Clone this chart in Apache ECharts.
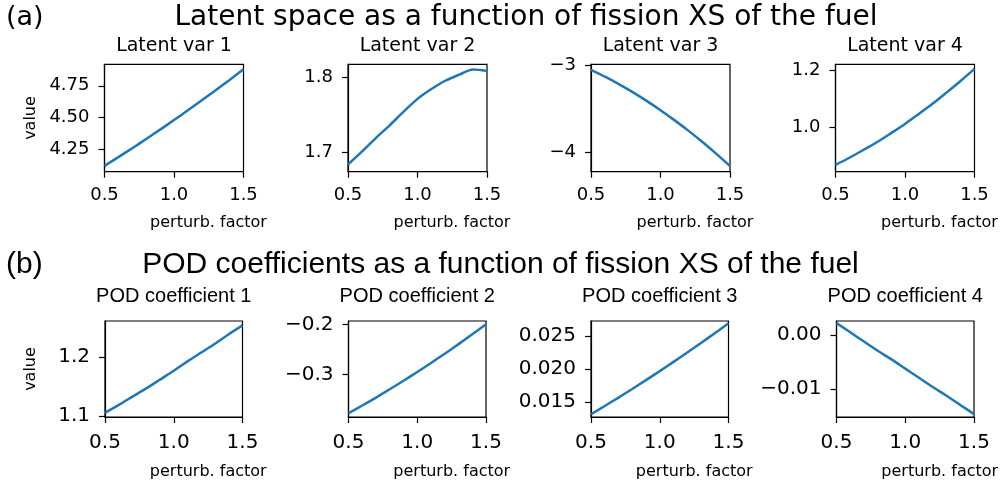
<!DOCTYPE html>
<html><head><meta charset="utf-8">
<script src="https://cdn.jsdelivr.net/npm/echarts@6/dist/echarts.min.js"></script>
<style>html,body{margin:0;padding:0;background:#fff}#c{width:1003px;height:483px}</style>
</head><body><div id="c"></div>
<script>
// ---- data ----
const perturbFactor = [0.5, 0.6, 0.7, 0.8, 0.9, 1.0, 1.1, 1.2, 1.3, 1.4, 1.5];

const latentVar1 = [4.124, 4.192, 4.262, 4.334, 4.407, 4.482, 4.558, 4.636, 4.715, 4.796, 4.879];
const latentVar2 = [1.684, 1.701, 1.719, 1.736, 1.754, 1.771, 1.784, 1.795, 1.803, 1.810, 1.808];
const latentVar3 = [-3.05, -3.129, -3.214, -3.307, -3.408, -3.515, -3.630, -3.751, -3.880, -4.017, -4.16];
const latentVar4 = [0.870, 0.895, 0.922, 0.950, 0.981, 1.013, 1.048, 1.084, 1.123, 1.163, 1.205];

const podCoef1 = [1.1056, 1.119, 1.133, 1.147, 1.162, 1.177, 1.193, 1.208, 1.223, 1.239, 1.254];
const podCoef2 = [-0.378, -0.3624, -0.3464, -0.3298, -0.3126, -0.295, -0.2768, -0.2582, -0.239, -0.2192, -0.199];
const podCoef3 = [0.01312, 0.01438, 0.01566, 0.01697, 0.01831, 0.01968, 0.02108, 0.02250, 0.02395, 0.02543, 0.02694];
const podCoef4 = [0.0022, 0.0005, -0.0012, -0.0029, -0.0045, -0.0062, -0.0079, -0.0096, -0.0112, -0.0129, -0.0146];

const xTicks = [0.5, 1.0, 1.5];
const latentTicks = [[4.25, 4.50, 4.75], [1.7, 1.8], [-4, -3], [1.0, 1.2]];
const podTicks = [[1.1, 1.2], [-0.3, -0.2], [0.015, 0.020, 0.025], [-0.01, 0.00]];
const latentDecimals = [2, 1, 0, 1];
const podDecimals = [1, 1, 3, 2];
const latentLimits = [[4.078, 4.918], [1.6745, 1.8168], [-4.225, -2.986], [0.8464, 1.221]];
const podLimits = [[1.0985, 1.2615], [-0.3855, -0.1925], [0.01271, 0.02729], [-0.01513, 0.00259]];

const latentTitles = ['Latent var 1', 'Latent var 2', 'Latent var 3', 'Latent var 4'];
const podTitles = ['POD coefficient 1', 'POD coefficient 2', 'POD coefficient 3', 'POD coefficient 4'];
const headerA = 'Latent space as a function of fission XS of the fuel';
const headerB = 'POD coefficients as a function of fission XS of the fuel';
const xLabel = 'perturb. factor';
const yLabel = 'value';

// ---- layout ----
const topLefts = [104.5, 348, 591, 835.5];
const botLefts = [105, 348.5, 591, 836.5];
const rows = [
  {lefts: topLefts, top: 64.3, height: 107.4, width: 139, series: [latentVar1, latentVar2, latentVar3, latentVar4],
   ticks: latentTicks, dec: latentDecimals, lim: latentLimits, titles: latentTitles, titleFont: 'DejaVu Sans', titleSize: 19, titleY: 46.5,
   xNameGap: 43, tickSize: 18, xMargin: 15, yMargin: 15},
  {lefts: botLefts, top: 321, height: 96, width: 137.5, series: [podCoef1, podCoef2, podCoef3, podCoef4],
   ticks: podTicks, dec: podDecimals, lim: podLimits, titles: podTitles, titleFont: 'Liberation Sans', titleSize: 20, titleY: 296.5,
   xNameGap: 47, tickSize: 20, xMargin: 16, yMargin: 15}
];

const fmt = (v, d) => v.toFixed(d).replace('-', '\u2212');
const grids = [], xAxes = [], yAxes = [], series = [], graphics = [];
let gi = 0;
rows.forEach((r, ri) => {
  const tickFont = {fontFamily: 'DejaVu Sans', fontSize: r.tickSize, color: '#000'};
  r.lefts.forEach((left, ci) => {
    grids.push({left: left, top: r.top, width: r.width, height: r.height, show: true,
      borderColor: '#000', borderWidth: 1.2, backgroundColor: 'transparent', containLabel: false});
    xAxes.push({type: 'value', gridIndex: gi, min: 0.5, max: 1.5,
      axisLine: {show: true, onZero: false, lineStyle: {color: '#000', width: 1.2}},
      axisTick: {show: true, length: 6, inside: false, lineStyle: {color: '#000', width: 1.2}, customValues: xTicks},
      axisLabel: {show: true, margin: r.xMargin, ...tickFont, customValues: xTicks, formatter: v => fmt(v, 1)},
      splitLine: {show: false},
      name: xLabel, nameLocation: 'middle', nameGap: r.xNameGap,
      nameTextStyle: {fontFamily: 'DejaVu Sans', fontSize: 16, color: '#000', padding: [0, 0, 0, 69]}
    });
    const d = r.dec[ci];
    yAxes.push({type: 'value', gridIndex: gi, min: r.lim[ci][0], max: r.lim[ci][1],
      axisLine: {show: true, onZero: false, lineStyle: {color: '#000', width: 1.2}},
      axisTick: {show: true, length: 6, inside: false, lineStyle: {color: '#000', width: 1.2}, customValues: r.ticks[ci]},
      axisLabel: {show: true, margin: r.yMargin, ...tickFont, customValues: r.ticks[ci], formatter: v => fmt(v, d)},
      splitLine: {show: false},
      name: ci === 0 ? yLabel : '', nameLocation: 'middle', nameRotate: 90, nameGap: 66,
      nameTextStyle: {fontFamily: 'DejaVu Sans', fontSize: 16, color: '#000'}
    });
    series.push({type: 'line', xAxisIndex: gi, yAxisIndex: gi, showSymbol: false, smooth: 0.3,
      lineStyle: {color: '#1f77b4', width: 2.5}, itemStyle: {color: '#1f77b4'},
      data: perturbFactor.map((x, i) => [x, r.series[ci][i]])});
    graphics.push({type: 'text', x: left + r.width / 2, y: r.titleY,
      style: {text: r.titles[ci], textAlign: 'center', textVerticalAlign: 'middle',
        font: r.titleSize + 'px "' + r.titleFont + '"', fill: '#000'}});
    gi++;
  });
});
graphics.push({type: 'text', x: 6, y: 18, style: {text: '(a)', textAlign: 'left', textVerticalAlign: 'middle', font: '27px "DejaVu Sans"', fill: '#000'}});
graphics.push({type: 'text', x: 526, y: 18, style: {text: headerA, textAlign: 'center', textVerticalAlign: 'middle', font: '28px "DejaVu Sans"', fill: '#000'}});
graphics.push({type: 'text', x: 6, y: 265, style: {text: '(b)', textAlign: 'left', textVerticalAlign: 'middle', font: '30px "Liberation Sans"', fill: '#000'}});
graphics.push({type: 'text', x: 500.5, y: 265, style: {text: headerB, textAlign: 'center', textVerticalAlign: 'middle', font: '30px "Liberation Sans"', fill: '#000'}});

const chart = echarts.init(document.getElementById('c'), null, {renderer: 'canvas'});
chart.setOption({animation: false, backgroundColor: '#fff', grid: grids, xAxis: xAxes, yAxis: yAxes, series: series, graphic: graphics});
</script></body></html>
